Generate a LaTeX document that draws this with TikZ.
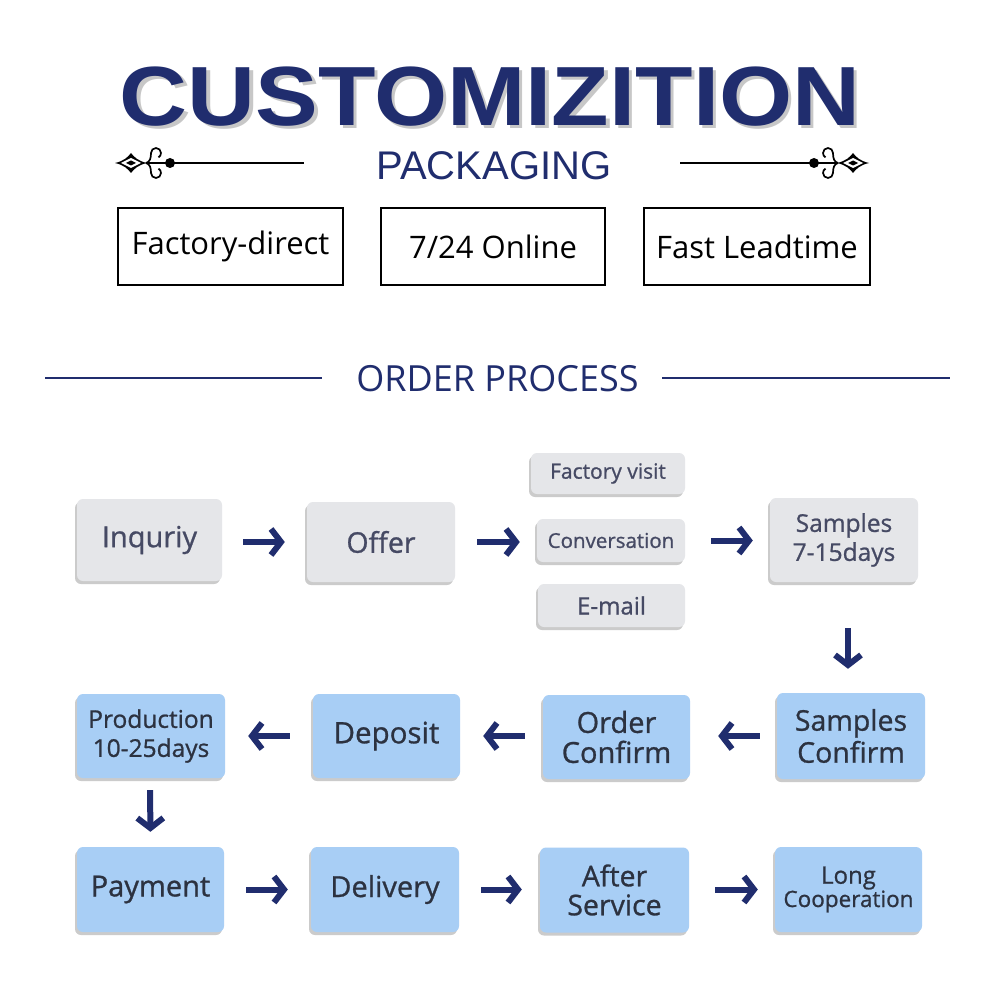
\documentclass[tikz,border=0pt]{standalone}
\usepackage{fontspec}
\setmainfont{Liberation Sans}
\newfontfamily\boxfont[FakeBold=0.9]{Open Sans}
\newfontfamily\topfont{Open Sans}
\usetikzlibrary{arrows.meta,shadows}
\definecolor{navy}{RGB}{32,45,110}
\definecolor{boxgray}{RGB}{229,230,233}
\definecolor{boxblue}{RGB}{168,206,245}
\definecolor{graytext}{RGB}{70,74,100}
\definecolor{bluetext}{RGB}{44,50,64}
\newcommand\myorn{%
  \fill (115,163) .. controls (124,161) and (128,157) .. (131,153) .. controls (134,157) and (138,161) .. (147,163) .. controls (138,165) and (134,169) .. (131,173) .. controls (128,169) and (124,165) .. (115,163) -- cycle;
  \fill[white] (121,163) -- (131,158) -- (141,163) -- (131,168) -- cycle;
  \fill (126,163) -- (131,160.5) -- (136,163) -- (131,165.5) -- cycle;
  \draw[line width=1.7pt] (146,163) .. controls (150,162) and (151,158) .. (151,153) arc[start angle=180, end angle=420, radius=5];
  \draw[line width=1.7pt] (146,163) .. controls (150,164) and (151,168) .. (151,173) arc[start angle=180, end angle=-60, radius=5];
  \draw[line width=1.7pt] (146,163) -- (304,163);
  \fill (170,163) circle (5);
}
\tikzset{
  flowbox/.style={rounded corners=6pt, inner sep=0pt, align=center,
    drop shadow={shadow xshift=-2pt, shadow yshift=-3pt, fill=black!45, opacity=0.45}},
  graybox/.style={flowbox, fill=boxgray, text=graytext},
  bluebox/.style={flowbox, fill=boxblue, text=bluetext},
  topbox/.style={draw=black, line width=2pt, inner sep=0pt, font=\topfont\fontsize{31}{34}\selectfont},
  flow/.style={draw=navy, line width=6pt, -{Straight Barb[length=10pt,width=26pt]}},
}
\begin{document}
\begin{tikzpicture}[x=1pt,y=-1pt]
\useasboundingbox (0,0) rectangle (1000,1000);
\fill[white] (0,0) rectangle (1000,1000);
% title
\node[anchor=base, text=navy, inner sep=0pt] (title) at (490,126) {\scalebox{1.12}[1]{\fontsize{84}{84}\selectfont\bfseries\makebox[0pt][l]{\hspace{3pt}\raisebox{-3pt}{\color{black!22}CUSTOMIZITION}}CUSTOMIZITION}};
\node[anchor=base, text=navy, inner sep=0pt] (pack) at (494,180) {\fontsize{40}{40}\selectfont PACKAGING};
\myorn
\begin{scope}[xshift=984pt, xscale=-1]
\myorn
\end{scope}
% top boxes
\node[topbox, minimum width=225, minimum height=77] (fd) at (230.5,246.5) {Factory-direct};
\node[topbox, minimum width=224, minimum height=77] (on) at (493,246.5) {7/24 Online};
\node[topbox, minimum width=226, minimum height=77] (fl) at (757,246.5) {Fast Leadtime};
% order process
\node[anchor=base, text=navy, inner sep=0pt, font=\topfont\fontsize{36}{36}\selectfont] (op) at (497.5,391) {ORDER PROCESS};
\draw[navy, line width=2.5pt] (45,378) -- (322,378);
\draw[navy, line width=2.5pt] (662,378) -- (950,378);
% row 1
\node[graybox, minimum width=145, minimum height=82, font=\boxfont\fontsize{29}{30}\selectfont] (inq) at (149.5,540) {Inquriy};
\node[graybox, minimum width=148, minimum height=80, font=\boxfont\fontsize{28.5}{30}\selectfont] (off) at (381,542) {Offer};
\node[graybox, minimum width=154, minimum height=41, font=\boxfont\fontsize{21}{24}\selectfont] (fv) at (608,473.5) {Factory visit};
\node[graybox, minimum width=148, minimum height=43, font=\boxfont\fontsize{20.5}{24}\selectfont] (conv) at (611,540.5) {Conversation};
\node[graybox, minimum width=147, minimum height=43, font=\boxfont\fontsize{24}{24}\selectfont] (em) at (611.5,605.5) {E-mail};
\node[graybox, minimum width=148, minimum height=84, font=\boxfont\fontsize{24.5}{29}\selectfont] (samp) at (844,540) {Samples\\7-15days};
% row 2
\node[bluebox, minimum width=148, minimum height=84, font=\boxfont\fontsize{24.5}{29}\selectfont] (prod) at (151,736) {Production\\10-25days};
\node[bluebox, minimum width=147, minimum height=84, font=\boxfont\fontsize{29.5}{30}\selectfont] (dep) at (386.5,736) {Deposit};
\node[bluebox, minimum width=147, minimum height=84, font=\boxfont\fontsize{29}{30}\selectfont] (oc) at (616.5,737) {Order\\Confirm};
\node[bluebox, minimum width=148, minimum height=86, font=\boxfont\fontsize{28.5}{32}\selectfont] (sc) at (851,736) {Samples\\Confirm};
% row 3
\node[bluebox, minimum width=147, minimum height=85, font=\boxfont\fontsize{29}{30}\selectfont] (pay) at (150.5,889.5) {Payment};
\node[bluebox, minimum width=148, minimum height=85, font=\boxfont\fontsize{29}{30}\selectfont] (del) at (385,889.5) {Delivery};
\node[bluebox, minimum width=149, minimum height=85, font=\boxfont\fontsize{28.5}{29}\selectfont] (as) at (614.5,890) {After\\Service};
\node[bluebox, minimum width=147, minimum height=85, font=\boxfont] (lc) at (848.5,889.5) {{\fontsize{24}{27}\selectfont Long}\\{\fontsize{22.5}{25}\selectfont Cooperation}};
% arrows
\draw[flow, shorten <=21pt, shorten >=22pt] (inq.east |- off.west) -- (off.west);
\draw[flow, shorten <=22pt, shorten >=17pt] (off.east) -- (conv.west |- off.east);
\draw[flow, shorten <=26pt, shorten >=17pt] (conv.east) -- (samp.west |- conv.east);
\draw[flow, shorten <=46pt, shorten >=24pt] ([xshift=4pt]samp.south) -- ([xshift=-3pt]sc.north);
\draw[flow, shorten <=17pt, shorten >=28pt] (sc.west) -- (oc.east |- sc.west);
\draw[flow, shorten <=18pt, shorten >=23pt] (oc.west |- dep.east) -- (dep.east);
\draw[flow, shorten <=23pt, shorten >=23pt] (dep.west) -- (prod.east);
\draw[flow, shorten <=12pt, shorten >=15pt] ([xshift=-1pt]prod.south) -- (pay.north);
\draw[flow, shorten <=22pt, shorten >=23pt] (pay.east) -- (del.west);
\draw[flow, shorten <=22pt, shorten >=18pt] (del.east) -- (as.west |- del.east);
\draw[flow, shorten <=26pt, shorten >=17pt] (as.east |- lc.west) -- (lc.west);
\end{tikzpicture}
\end{document}
